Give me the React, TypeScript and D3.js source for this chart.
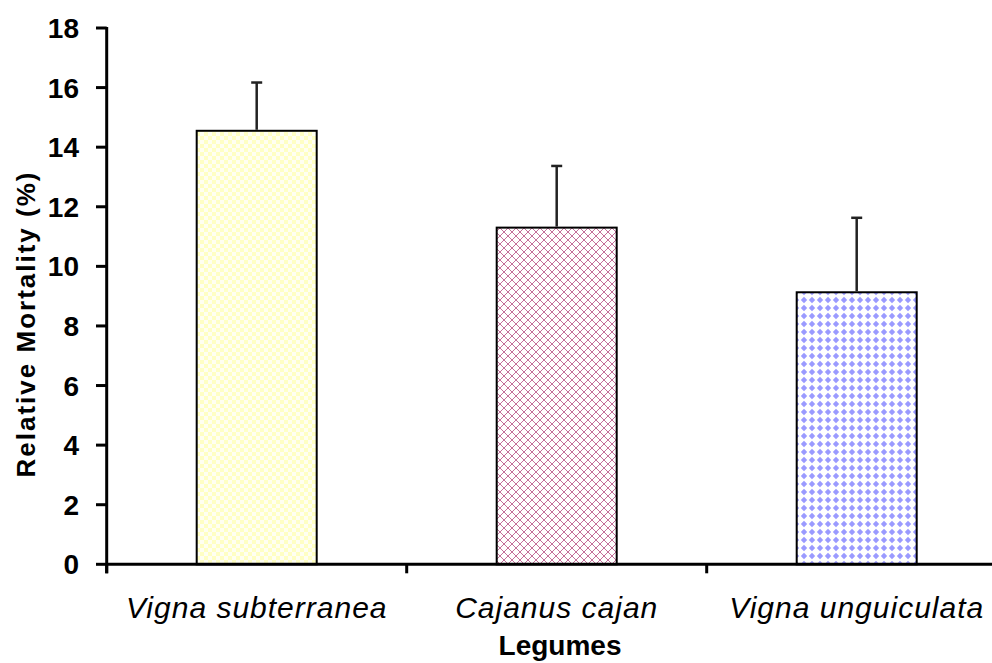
import * as d3 from "d3";

const categories = ["Vigna subterranea", "Cajanus cajan", "Vigna unguiculata"];
const means = [14.55, 11.3, 9.13];
const errors = [1.62, 2.07, 2.5];
const yTicks = [0, 2, 4, 6, 8, 10, 12, 14, 16, 18];
const fills = ["url(#pat-check)", "url(#pat-lattice)", "url(#pat-diamond)"];

const W = 992;
const H = 663;
const FONT = "'Liberation Sans', Arial, sans-serif";

export default function App() {
  const x = d3.scaleBand().domain(categories).range([106.7, 1006.7]).paddingInner(0.6).paddingOuter(0.3);
  const y = d3.scaleLinear().domain([0, 18]).range([564.3, 28]);
  const x0 = 106.7;
  const y0 = y(0);
  const bounds = [x0, ...categories.map((c) => (x(c) as number) + x.bandwidth() / 2 + x.step() / 2)];

  return (
    <svg
      width={W}
      height={H}
      style={{ position: "absolute", left: 0, top: 0, background: "#fff" }}
      fontFamily={FONT}
    >
      <defs>
        <pattern id="pat-check" width={8} height={8} patternUnits="userSpaceOnUse">
          <rect width={8} height={8} fill="#fffff2" />
          <rect width={4} height={4} fill="#ffffc4" />
          <rect x={4} y={4} width={4} height={4} fill="#ffffc4" />
        </pattern>
        <pattern id="pat-lattice" width={8} height={8} patternUnits="userSpaceOnUse">
          <rect width={8} height={8} fill="#fff" />
          <path d="M0,0 L8,8 M8,0 L0,8" stroke="#c4709a" strokeWidth={1} />
        </pattern>
        <pattern id="pat-diamond" width={8} height={8} patternUnits="userSpaceOnUse">
          <rect width={8} height={8} fill="#fff" />
          <path d="M4,0.8 L7.2,4 L4,7.2 L0.8,4 Z" fill="#9a9aff" />
        </pattern>
      </defs>

      {/* bars */}
      {categories.map((c, i) => (
        <rect
          key={c}
          x={x(c)}
          y={y(means[i])}
          width={x.bandwidth()}
          height={y0 - y(means[i])}
          fill={fills[i]}
          stroke="#000"
          strokeWidth={2}
        />
      ))}

      {/* error bars */}
      {categories.map((c, i) => {
        const cx = (x(c) as number) + x.bandwidth() / 2;
        const top = y(means[i] + errors[i]);
        return (
          <g key={c} stroke="#222" strokeWidth={2.5}>
            <line x1={cx} x2={cx} y1={y(means[i]) - 1} y2={top} />
            <line x1={cx - 5.5} x2={cx + 5.5} y1={top} y2={top} />
          </g>
        );
      })}

      {/* y axis */}
      <line x1={x0} x2={x0} y1={y(18) - 1} y2={y0 + 9} stroke="#000" strokeWidth={3} />
      {yTicks.map((t) => (
        <g key={t}>
          <line x1={96} x2={x0} y1={y(t)} y2={y(t)} stroke="#000" strokeWidth={3} />
          <text x={79} y={y(t)} dy="0.36em" textAnchor="end" fontSize={28} fontWeight="bold">
            {t}
          </text>
        </g>
      ))}

      {/* x axis */}
      <line x1={x0} x2={W} y1={y0} y2={y0} stroke="#000" strokeWidth={3} />
      {bounds.map((b, i) => (
        <line key={i} x1={b} x2={b} y1={y0} y2={y0 + 9} stroke="#000" strokeWidth={3} />
      ))}
      {categories.map((c) => (
        <text
          key={c}
          x={(x(c) as number) + x.bandwidth() / 2}
          y={618}
          textAnchor="middle"
          fontSize={30}
          fontStyle="italic"
          letterSpacing={1}
        >
          {c}
        </text>
      ))}

      <text x={560} y={655} textAnchor="middle" fontSize={28} fontWeight="bold">
        Legumes
      </text>
      <text
        transform={`translate(35,${324}) rotate(-90)`}
        textAnchor="middle"
        fontSize={26}
        fontWeight="bold"
        letterSpacing={2}
      >
        Relative Mortality (%)
      </text>
    </svg>
  );
}
